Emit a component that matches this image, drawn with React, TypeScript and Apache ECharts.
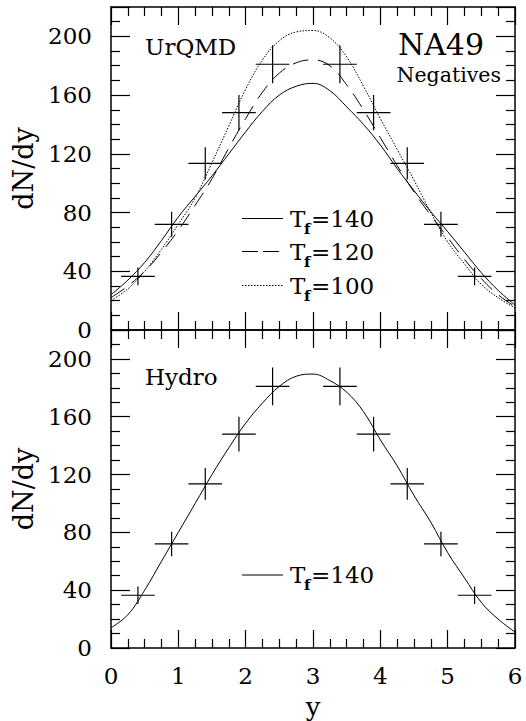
import React, { useEffect, useRef } from 'react';
import * as echarts from 'echarts';

// rapidity grid for the model curves
const rapidity = [0, 0.25, 0.5, 0.75, 1, 1.25, 1.5, 1.75, 2, 2.25, 2.5, 2.75, 3, 3.25, 3.5, 3.75, 4, 4.25, 4.5, 4.75, 5, 5.25, 5.5, 5.75, 6];
// UrQMD curves (top panel)
const urqmdT140 = [24, 34, 46, 61, 77, 91, 105, 120, 135, 149, 160, 166, 168, 163, 152, 140, 126, 110, 95, 80.5, 67, 53, 39, 27, 17];
const urqmdT120 = [22, 30, 40, 53, 68, 85, 103, 124, 144, 162, 175, 182, 184, 180, 167, 150, 131, 112, 94, 78, 63, 48, 35, 24, 16];
const urqmdT100 = [20, 28, 40, 55, 72, 90, 114, 139, 164, 184, 197, 203, 204, 199, 186, 166, 144, 123, 102, 80, 60, 45, 31, 22, 15];
// Hydro curve (bottom panel)
const hydroT140 = [14, 23, 40, 60, 80, 100, 120, 138.5, 155.5, 169.5, 181, 188, 189.5, 185, 177, 163.5, 144, 126, 105.5, 87, 66, 48.5, 31.5, 20, 11];
// NA49 negatives data points
const na49Y = [0.4, 0.9, 1.4, 1.9, 2.4, 3.4, 3.9, 4.4, 4.9, 5.4];
const na49dNdy = [36.5, 72, 113.5, 148, 181, 181, 148, 113.5, 72, 36.5];
const na49ErrY = [6, 8.5, 11, 12, 13, 13, 12, 11, 8.5, 6];
const na49ErrX = [0.25, 0.25, 0.25, 0.25, 0.25, 0.25, 0.25, 0.25, 0.25, 0.25];
// axis settings
const xRange = [0, 6];
const xStep = 1;
const yRange = [0, 220];
const yStep = 40;

const FONT = 'DejaVu Serif';

const curve = (vals: number[]) => rapidity.map((x, i) => [x, vals[i]]);
const points = na49Y.map((x, i) => [x, na49dNdy[i], na49ErrX[i], na49ErrY[i]]);

function xAxis(gridIndex: number, position: string, labels: boolean) {
  const ax: any = {
    type: 'value', gridIndex, position, min: xRange[0], max: xRange[1], interval: xStep,
    axisLine: { show: true, onZero: false, lineStyle: { color: '#000', width: 1.5 } },
    axisTick: { show: true, inside: true, length: 18, lineStyle: { color: '#000', width: 1.2 } },
    minorTick: { show: true, splitNumber: 4, length: 9, lineStyle: { color: '#000', width: 1.2 } },
    splitLine: { show: false },
    minorSplitLine: { show: false },
    axisLabel: { show: labels, color: '#000', fontFamily: FONT, fontSize: 23, margin: 16 },
  };
  if (labels) {
    ax.name = 'y';
    ax.nameLocation = 'middle';
    ax.nameGap = 46;
    ax.nameTextStyle = { color: '#000', fontFamily: FONT, fontSize: 26 };
  }
  return ax;
}

function yAxis(gridIndex: number, position: string, labels: boolean) {
  const ax: any = {
    type: 'value', gridIndex, position, min: yRange[0], max: yRange[1], interval: yStep,
    axisLine: { show: true, onZero: false, lineStyle: { color: '#000', width: 1.5 } },
    axisTick: { show: true, inside: true, length: 19, lineStyle: { color: '#000', width: 1.2 } },
    minorTick: { show: true, splitNumber: 4, length: 9, lineStyle: { color: '#000', width: 1.2 } },
    splitLine: { show: false },
    minorSplitLine: { show: false },
    axisLabel: { show: labels, showMaxLabel: false, color: '#000', fontFamily: FONT, fontSize: 23, margin: 19 },
  };
  if (labels) {
    ax.name = 'dN/dy';
    ax.nameLocation = 'middle';
    ax.nameGap = 73;
    ax.nameRotate = 90;
    ax.nameTextStyle = { color: '#000', fontFamily: FONT, fontSize: 27 };
  }
  return ax;
}

const crossSeries = (xi: number, yi: number) => ({
  type: 'custom',
  xAxisIndex: xi,
  yAxisIndex: yi,
  data: points,
  encode: { x: 0, y: 1 },
  renderItem: (_p: any, api: any) => {
    const x = api.value(0), y = api.value(1), ex = api.value(2), ey = api.value(3);
    const l = api.coord([x - ex, y]);
    const r = api.coord([x + ex, y]);
    const t = api.coord([x, y + ey]);
    const b = api.coord([x, y - ey]);
    const st = { stroke: '#000', lineWidth: 1.2 };
    return {
      type: 'group',
      children: [
        { type: 'line', shape: { x1: l[0], y1: l[1], x2: r[0], y2: r[1] }, style: st },
        { type: 'line', shape: { x1: t[0], y1: t[1], x2: b[0], y2: b[1] }, style: st },
      ],
    };
  },
  z: 3,
});

const lineSeries = (vals: number[], xi: number, yi: number, type: any) => ({
  type: 'line',
  xAxisIndex: xi,
  yAxisIndex: yi,
  data: curve(vals),
  smooth: 0.4,
  showSymbol: false,
  symbol: 'none',
  lineStyle: { color: '#000', width: 1, type },
  z: 2,
});

function txt(text: string, x: number, y: number, size: number, extra: any = {}) {
  return {
    type: 'text', x, y, silent: true,
    style: { text, fill: '#000', font: `${extra.bold ? 'bold ' : ''}${size}px "${FONT}"`, align: extra.align || 'left', verticalAlign: 'middle' },
  };
}

function legendRow(label: string, y: number, dash: any) {
  return [
    { type: 'line', silent: true, shape: { x1: 242, y1: y, x2: 283, y2: y }, style: { stroke: '#000', lineWidth: 1, lineDash: dash } },
    txt('T', 290, y, 23),
    txt('f', 304, y + 10, 15, { bold: true }),
    txt(label, 311, y, 23),
  ];
}

export default function App() {
  const ref = useRef<HTMLDivElement>(null);
  useEffect(() => {
    if (!ref.current) return;
    const chart = echarts.init(ref.current, null, { renderer: 'svg' });
    chart.setOption({
      animation: false,
      backgroundColor: '#fff',
      grid: [
        { left: 111, top: 7, width: 404, height: 323 },
        { left: 111, top: 330, width: 404, height: 321 },
      ],
      xAxis: [xAxis(0, 'bottom', false), xAxis(0, 'top', false), xAxis(1, 'bottom', true), xAxis(1, 'top', false)],
      yAxis: [yAxis(0, 'left', true), yAxis(0, 'right', false), yAxis(1, 'left', true), yAxis(1, 'right', false)],
      series: [
        lineSeries(urqmdT140, 0, 0, 'solid'),
        lineSeries(urqmdT120, 0, 0, [16, 9]),
        lineSeries(urqmdT100, 0, 0, [1.5, 1.5]),
        crossSeries(0, 0),
        lineSeries(hydroT140, 2, 2, 'solid'),
        crossSeries(2, 2),
      ],
      graphic: [
        txt('UrQMD', 145, 46.5, 23),
        txt('NA49', 484, 44, 30, { align: 'right' }),
        txt('Negatives', 501, 75, 20.5, { align: 'right' }),
        txt('Hydro', 145, 376.5, 23),
        ...legendRow('=140', 218.5, null),
        ...legendRow('=120', 251.5, [16, 5]),
        ...legendRow('=100', 285.5, [1.5, 1.5]),
        ...legendRow('=140', 575, null),
      ],
    });
    return () => chart.dispose();
  }, []);
  return <div ref={ref} style={{ position: 'fixed', left: 0, top: 0, width: 526, height: 721, background: '#fff' }} />;
}
